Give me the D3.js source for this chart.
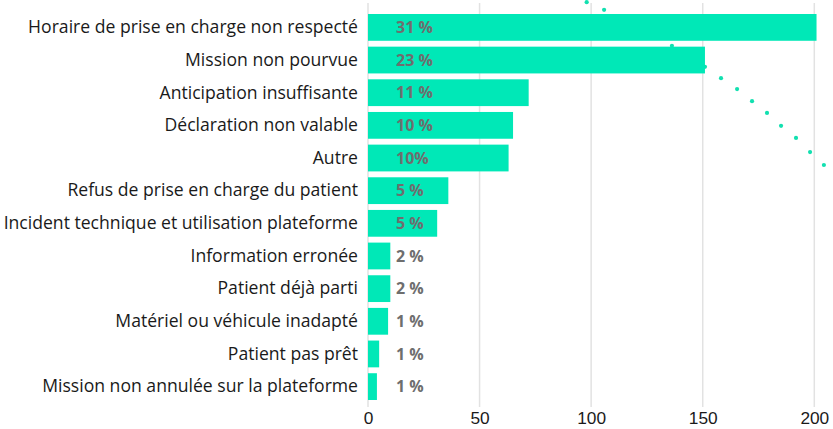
<!DOCTYPE html>
<html>
<head>
<meta charset="utf-8">
<script src="https://cdn.jsdelivr.net/npm/d3@7"></script>
<style>
  body { margin: 0; background: #fff; }
  svg { display: block; font-family: "Open Sans", sans-serif; }
  .grid line { stroke: #e2e2e2; stroke-width: 1.5; }
  .cat { fill: #1a1a1a; font-size: 17.6px; }
  .pct { fill: #6e6e6e; font-size: 16px; font-weight: bold; }
  .tick text { fill: #1a1a1a; font-size: 17.3px; }
</style>
</head>
<body>
<svg width="833" height="429"></svg>
<script>
const categories = [
  "Horaire de prise en charge non respecté",
  "Mission non pourvue",
  "Anticipation insuffisante",
  "Déclaration non valable",
  "Autre",
  "Refus de prise en charge du patient",
  "Incident technique et utilisation plateforme",
  "Information erronée",
  "Patient déjà parti",
  "Matériel ou véhicule inadapté",
  "Patient pas prêt",
  "Mission non annulée sur la plateforme"
];
const counts = [201, 151, 72, 65, 63, 36, 31, 10, 10, 9, 5, 4];
const pctLabels = ["31 %", "23 %", "11 %", "10 %", "10%", "5 %", "5 %", "2 %", "2 %", "1 %", "1 %", "1 %"];
const xTicks = [0, 50, 100, 150, 200];

// dotted series (x in axis units, y on a hidden 0-100 scale)
const dotX = [98, 105.8, 112.9, 120.5, 128.2, 136.2, 143.4, 151, 158.2, 165.4, 172.1, 178.8, 185.1, 191.8, 198.1, 204.3];
const dotY = [100.2, 98.3, 96.3, 94.1, 91.8, 89.4, 86.9, 84.2, 81.4, 78.7, 75.7, 72.8, 69.6, 66.6, 63.1, 59.9];

const svg = d3.select("svg");
const plotLeft = 368, plotRight = 814.3, plotTop = 3, plotBottom = 407;

const x = d3.scaleLinear().domain([0, 200]).range([plotLeft, plotRight]);
const y = d3.scaleBand().domain(categories).range([14, 400]).paddingInner(0.18).paddingOuter(0);
const yDot = d3.scaleLinear().domain([0, 100]).range([plotBottom, plotTop]);

// gridlines
svg.append("g").attr("class", "grid")
  .selectAll("line").data(xTicks).enter().append("line")
  .attr("x1", d => x(d)).attr("x2", d => x(d))
  .attr("y1", plotTop).attr("y2", plotBottom);

// dots (behind the bars)
svg.append("g").selectAll("circle").data(dotX).enter().append("circle")
  .attr("cx", d => x(d))
  .attr("cy", (d, i) => yDot(dotY[i]))
  .attr("r", 2.1)
  .attr("fill", "#12e0b0");

// bars
svg.append("g").selectAll("rect").data(categories).enter().append("rect")
  .attr("x", x(0))
  .attr("y", d => y(d))
  .attr("width", (d, i) => x(counts[i]) - x(0))
  .attr("height", y.bandwidth())
  .attr("fill", "#00e8b7");

// category labels
svg.append("g").selectAll("text").data(categories).enter().append("text")
  .attr("class", "cat")
  .attr("x", 358)
  .attr("y", d => y(d) + y.bandwidth() / 2)
  .attr("dy", "0.33em")
  .attr("text-anchor", "end")
  .text(d => d);

// percent labels
svg.append("g").selectAll("text").data(categories).enter().append("text")
  .attr("class", "pct")
  .attr("x", x(0) + 28)
  .attr("y", d => y(d) + y.bandwidth() / 2)
  .attr("dy", "0.36em")
  .text((d, i) => pctLabels[i]);

// x axis
const axis = svg.append("g")
  .attr("transform", `translate(0,${plotBottom})`)
  .call(d3.axisBottom(x).tickValues(xTicks).tickSize(0).tickPadding(5));
axis.select(".domain").remove();
axis.selectAll("text").attr("font-family", null).attr("font-size", null);
</script>
</body>
</html>
